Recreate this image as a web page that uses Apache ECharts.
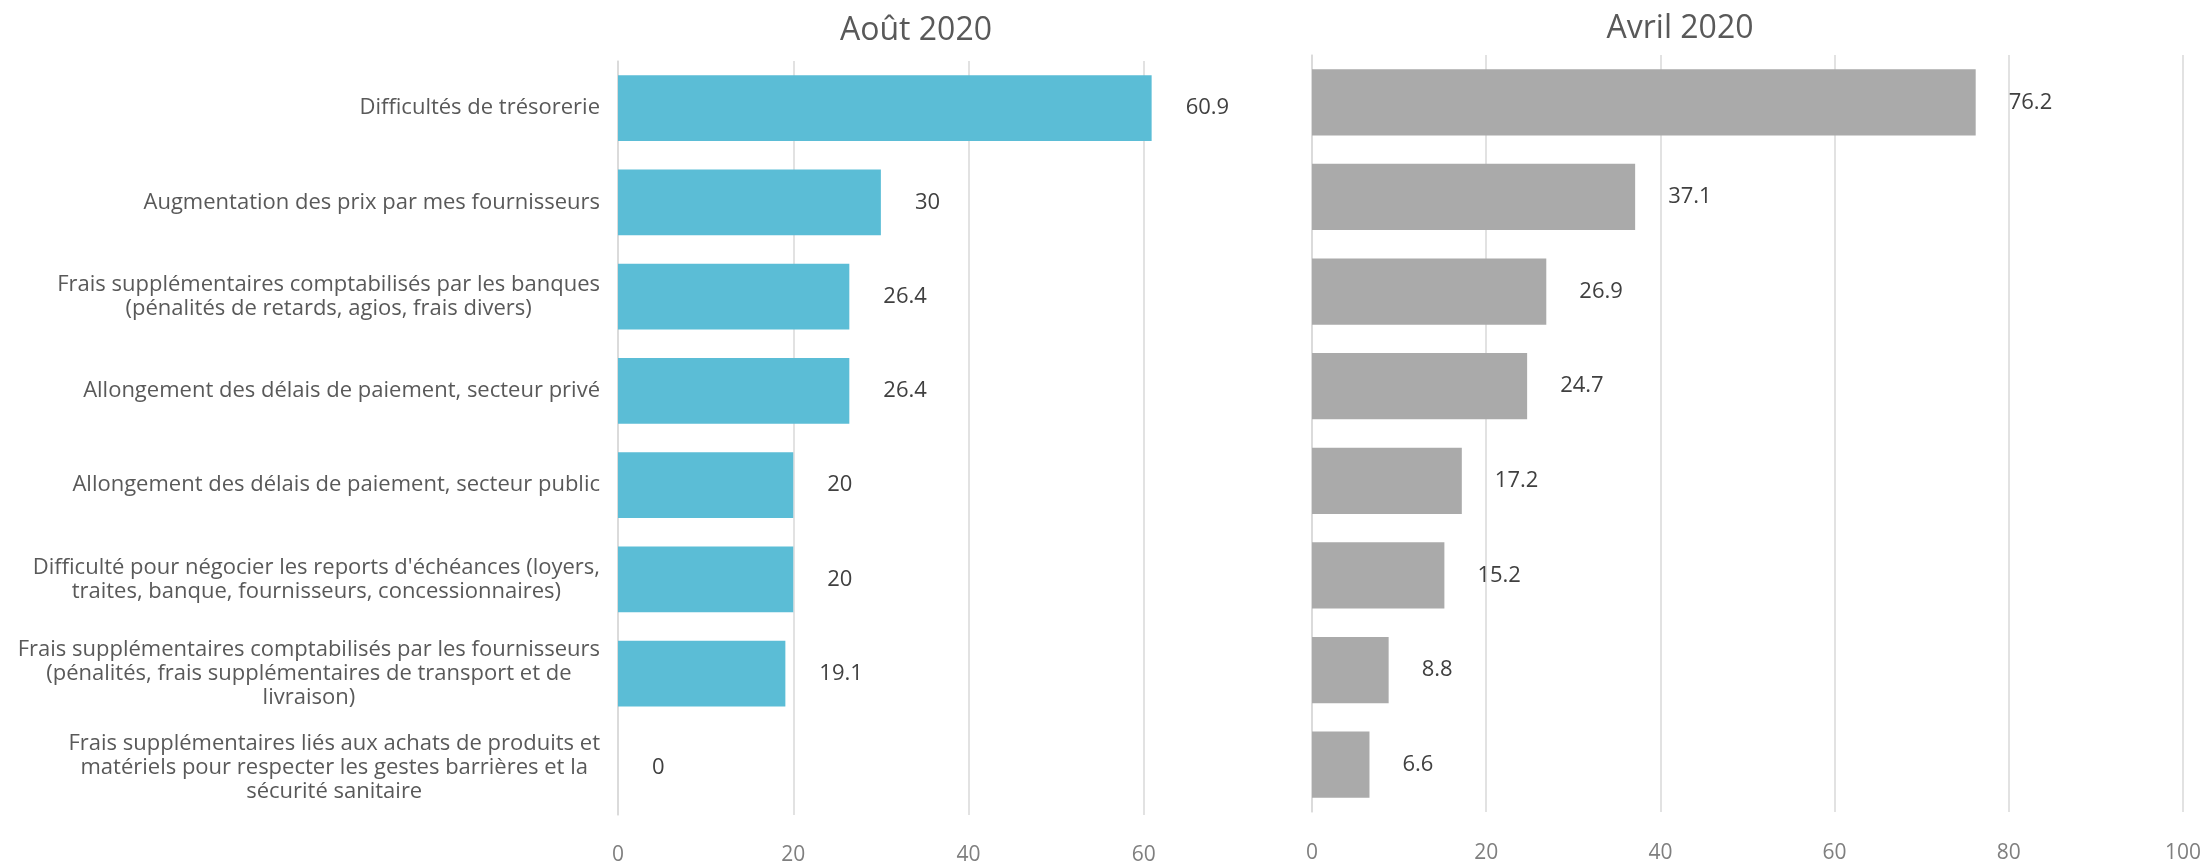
<!DOCTYPE html>
<html>
<head>
<meta charset="utf-8">
<script src="https://cdn.jsdelivr.net/npm/echarts@6/dist/echarts.min.js"></script>
<style>
html,body{margin:0;padding:0;background:#fff;}
#chart{width:2204px;height:866px;}
</style>
</head>
<body>
<div id="chart"></div>
<script>
const categories = [
  "Difficultés de trésorerie",
  "Augmentation des prix par mes fournisseurs",
  "Frais supplémentaires comptabilisés par les banques\n(pénalités de retards, agios, frais divers)",
  "Allongement des délais de paiement, secteur privé",
  "Allongement des délais de paiement, secteur public",
  "Difficulté pour négocier les reports d'échéances (loyers,\ntraites, banque, fournisseurs, concessionnaires)",
  "Frais supplémentaires comptabilisés par les fournisseurs\n(pénalités, frais supplémentaires de transport et de\nlivraison)",
  "Frais supplémentaires liés aux achats de produits et\nmatériels pour respecter les gestes barrières et la\nsécurité sanitaire"
];
const aout2020 = [60.9, 30, 26.4, 26.4, 20, 20, 19.1, 0];
const avril2020 = [76.2, 37.1, 26.9, 24.7, 17.2, 15.2, 8.8, 6.6];
const titles = ["Août 2020", "Avril 2020"];

const FONT = "'Open Sans', sans-serif";
const chart = echarts.init(document.getElementById('chart'));

const valueAxisCommon = {
  type: 'value',
  min: 0,
  interval: 20,
  axisLine: {show: false},
  axisTick: {show: false},
  splitLine: {lineStyle: {color: '#d9d9d9', width: 1.5}},
  axisLabel: {color: '#7f7f7f', fontSize: 21, fontFamily: FONT}
};

chart.setOption({
  animation: false,
  backgroundColor: '#fff',
  title: [
    {text: titles[0], left: 911, top: 10, textAlign: 'center',
     textStyle: {color: '#595959', fontSize: 32, fontWeight: 'normal', fontFamily: FONT}},
    {text: titles[1], left: 1675, top: 8, textAlign: 'center',
     textStyle: {color: '#595959', fontSize: 32, fontWeight: 'normal', fontFamily: FONT}}
  ],
  grid: [
    {left: 618, top: 61, width: 701, height: 757},
    {left: 1312, top: 55, width: 874, height: 757}
  ],
  xAxis: [
    Object.assign({}, valueAxisCommon, {gridIndex: 0, max: 80,
      splitLine: {showMaxLine: false, lineStyle: {color: '#d9d9d9', width: 1.5}},
      axisLabel: {color: '#7f7f7f', fontSize: 21, fontFamily: FONT, margin: 30, showMaxLabel: false}}),
    Object.assign({}, valueAxisCommon, {gridIndex: 1, max: 100,
      axisLabel: {color: '#7f7f7f', fontSize: 21, fontFamily: FONT, margin: 31}})
  ],
  yAxis: [
    {type: 'category', gridIndex: 0, data: categories, inverse: true,
     axisLine: {show: true, lineStyle: {color: '#d9d9d9', width: 1.5}},
     axisTick: {show: false},
     axisLabel: {
       margin: 18, fontFamily: FONT, fontSize: 22, color: '#595959', lineHeight: 24,
       formatter: function (v) {
         return v.split('\n').map(function (l) { return '{c|' + l + '}'; }).join('\n');
       },
       rich: {c: {align: 'center', fontFamily: FONT, fontSize: 22, color: '#595959', lineHeight: 24}}
     }},
    {type: 'category', gridIndex: 1, data: categories, inverse: true,
     axisLine: {show: true, lineStyle: {color: '#d9d9d9', width: 1.5}},
     axisTick: {show: false},
     axisLabel: {show: false}}
  ],
  series: [
    {type: 'bar', xAxisIndex: 0, yAxisIndex: 0, data: aout2020, barCategoryGap: '30%',
     itemStyle: {color: '#5bbdd6'},
     label: {show: true, position: 'right', distance: 34, color: '#404040', fontSize: 22, fontFamily: FONT}},
    {type: 'bar', xAxisIndex: 1, yAxisIndex: 1, data: avril2020, barCategoryGap: '30%',
     itemStyle: {color: '#aaaaaa'},
     label: {show: true, position: 'right', distance: 33, color: '#404040', fontSize: 22, fontFamily: FONT}}
  ]
});
</script>
</body>
</html>
